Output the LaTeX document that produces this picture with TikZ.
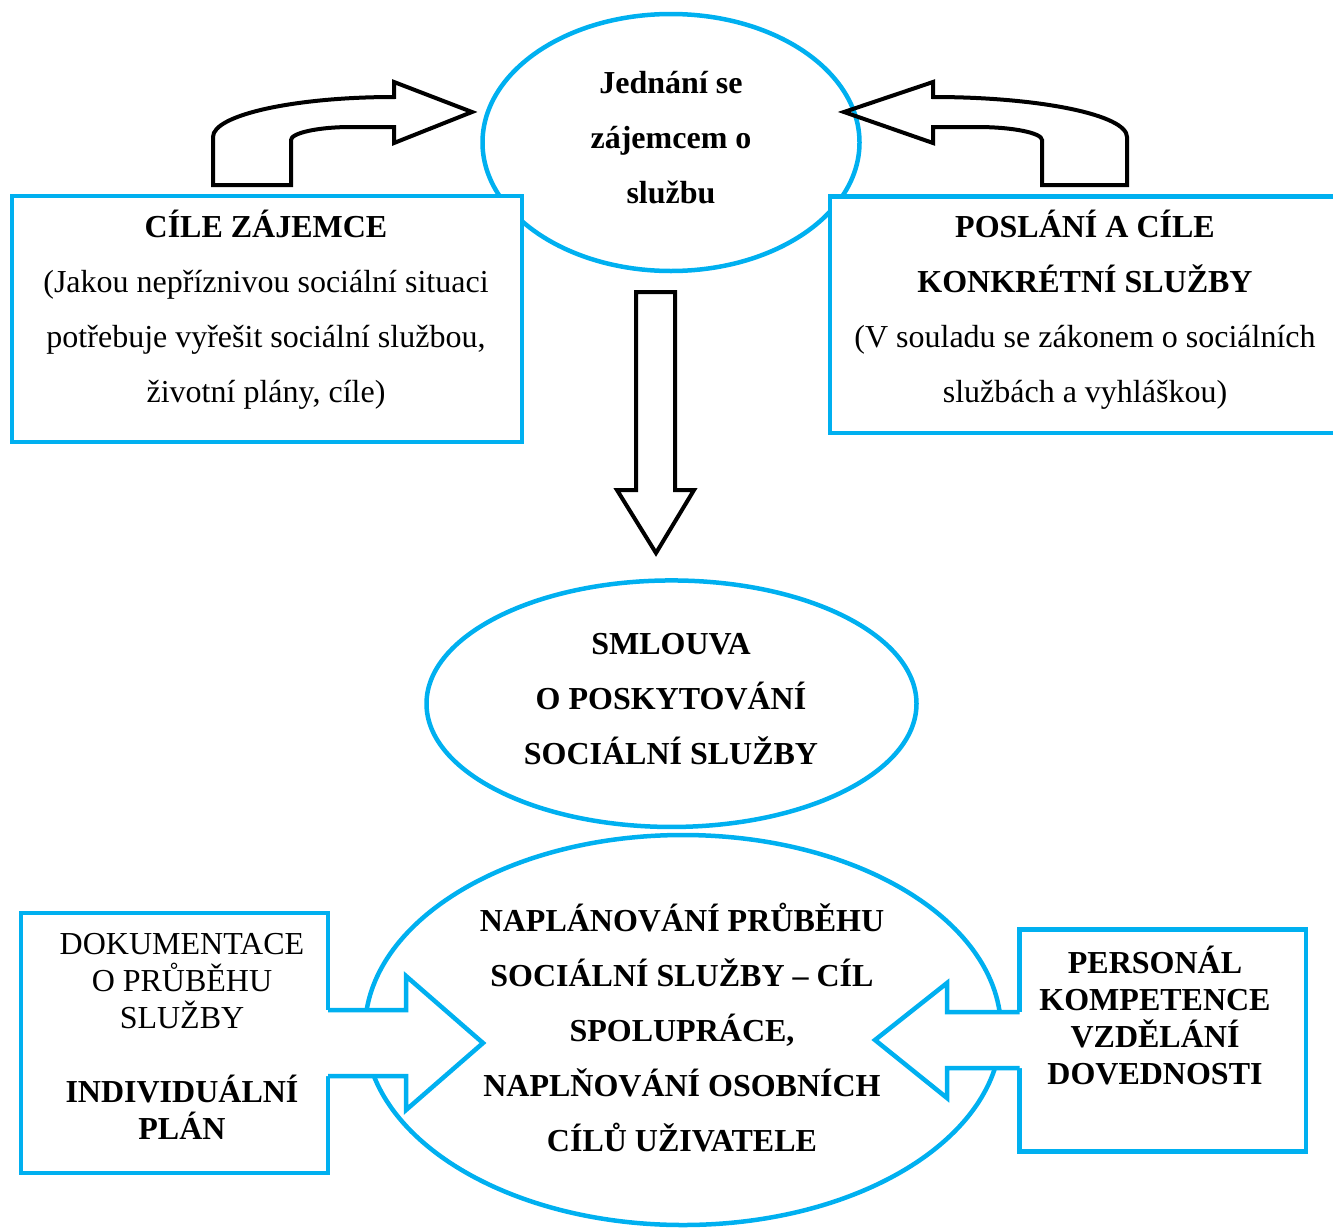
\documentclass[tikz,border=0pt]{standalone}
\usepackage{fontspec}
\setmainfont{Liberation Serif}
\usetikzlibrary{shapes.geometric}
\definecolor{cyanb}{HTML}{00B0F0}
\tikzset{
  bluel/.style={draw=cyanb, line width=4.5pt},
  oval/.style={ellipse, bluel, inner sep=0pt},
  panel/.style={rectangle, bluel, fill=white, inner sep=0pt},
  blockarrow/.style={draw=black, line width=4pt, line join=miter},
  bluearrow/.style={draw=cyanb, line width=4.5pt, line join=miter},
  txt/.style={align=center, inner sep=0pt, font=\fontsize{32}{55}\selectfont},
  txtb/.style={align=center, inner sep=0pt, font=\fontsize{32}{55}\selectfont\bfseries},
  txtt/.style={align=center, inner sep=0pt, font=\fontsize{32}{37}\selectfont},
  txttb/.style={align=center, inner sep=0pt, font=\fontsize{32}{37}\selectfont\bfseries}
}
\begin{document}
\begin{tikzpicture}[x=1pt,y=-1pt]
\useasboundingbox (0,0) rectangle (1333,1229);
% top ellipse
\node[oval, minimum width=377pt, minimum height=257pt] (jedn) at (671,142.5) {};
% top boxes
\node[panel, minimum width=510pt, minimum height=246pt] (lbox) at (267,319) {};
\node[panel, minimum width=510pt, minimum height=236.5pt] (rbox) at (1085,314.75) {};
% curved arrows
\coordinate (ltip) at (472,112);
\coordinate (rtip) at (844,112);
\draw[blockarrow] (213,185) -- (213,137) .. controls (213,115) and (294,97) .. (394,97)
  -- (394,82) -- (ltip) -- (394,143) -- (394,127) -- (351,127)
  .. controls (318,127) and (291,133) .. (291,140) -- (291,185) -- cycle;
\draw[blockarrow] (1127,185) -- (1127,137) .. controls (1127,115) and (1040,97) .. (933,97)
  -- (933,82) -- (rtip) -- (933,143) -- (933,127) -- (977,127)
  .. controls (1013,127) and (1042,133) .. (1042,140) -- (1042,185) -- cycle;
% down arrow
\coordinate (dtip) at (656,553);
\draw[blockarrow] (636,292) -- (675,292) -- (675,490) -- (694,490) -- (dtip)
  -- (617,490) -- (636,490) -- cycle;
% middle and bottom ellipses
\node[oval, minimum width=490pt, minimum height=246.5pt] (smlouva) at (671.5,703.7) {};
\node[oval, minimum width=636pt, minimum height=390pt] (plan) at (683,1030) {};
% bottom boxes
\node[panel, minimum width=307pt, minimum height=260pt] (dlbox) at (174.5,1043) {};
\node[panel, minimum width=286.5pt, minimum height=222pt] (drbox) at (1162.75,1040.5) {};
% bottom blue arrows
\coordinate (bltip) at (483,1043);
\coordinate (brtip) at (875,1040);
\fill[white] (322,1010) -- (406,1010) -- (406,976) -- (bltip) -- (406,1110) -- (406,1076) -- (322,1076) -- cycle;
\draw[bluearrow] (328,1010) -- (406,1010) -- (406,976) -- (bltip) -- (406,1110) -- (406,1076) -- (328,1076);
\fill[white] (1025,1012) -- (947,1012) -- (947,983) -- (brtip) -- (947,1098) -- (947,1068) -- (1025,1068) -- cycle;
\draw[bluearrow] (1019.5,1012) -- (947,1012) -- (947,983) -- (brtip) -- (947,1098) -- (947,1068) -- (1019.5,1068);
% texts
\node[txtb] (tjedn) at (671,137.5) {Jednání se\\zájemcem o\\službu};
\node[txt] (tlbox) at (266,310) {\textbf{CÍLE ZÁJEMCE}\\(Jakou nepříznivou sociální situaci\\potřebuje vyřešit sociální službou,\\životní plány, cíle)};
\node[txt] (trbox) at (1085,310) {\textbf{POSLÁNÍ A CÍLE}\\\textbf{KONKRÉTNÍ SLUŽBY}\\(V souladu se zákonem o sociálních\\službách a vyhláškou)};
\node[txtb] (tsml) at (671,699) {SMLOUVA\\O POSKYTOVÁNÍ\\SOCIÁLNÍ SLUŽBY};
\node[txtb] (tplan) at (682,1027.5) {NAPLÁNOVÁNÍ PRŮBĚHU\\SOCIÁLNÍ SLUŽBY – CÍL\\SPOLUPRÁCE,\\NAPLŇOVÁNÍ OSOBNÍCH\\CÍLŮ UŽIVATELE};
\node[txtt] (tdl) at (182,1036.5) {DOKUMENTACE\\O PRŮBĚHU\\SLUŽBY\\[37pt]\textbf{INDIVIDUÁLNÍ}\\\textbf{PLÁN}};
\node[txttb] (tdr) at (1155,1015.5) {PERSONÁL\\KOMPETENCE\\VZDĚLÁNÍ\\DOVEDNOSTI};
\end{tikzpicture}
\end{document}
